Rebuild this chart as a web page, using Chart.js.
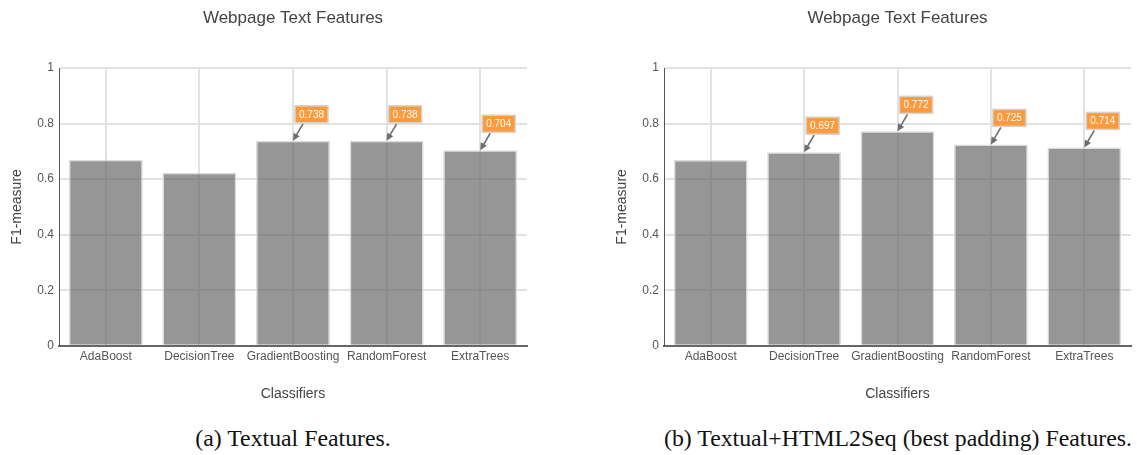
<!DOCTYPE html>
<html>
<head>
<meta charset="utf-8">
<script src="https://cdn.jsdelivr.net/npm/chart.js@4"></script>
<style>
  body { margin: 0; background: #fff; width: 1137px; height: 455px; position: relative; overflow: hidden; }
  .box { position: absolute; top: 0; height: 410px; }
  #boxA { left: 0; width: 568px; }
  #boxB { left: 568px; width: 569px; }
  .caption { position: absolute; top: 424px; font-family: "Liberation Serif", "Times New Roman", serif; font-size: 23.8px; color: #111; text-align: center; line-height: 28px; white-space: nowrap; }
  #capA { left: 59px; width: 468px; }
  #capB { left: 664px; width: 467px; }
</style>
</head>
<body>
<div class="box" id="boxA"><canvas id="chartA"></canvas></div>
<div class="box" id="boxB"><canvas id="chartB"></canvas></div>
<div class="caption" id="capA">(a) Textual Features.</div>
<div class="caption" id="capB">(b) Textual+HTML2Seq (best padding) Features.</div>
<script>
// data
const classifiers = ['AdaBoost', 'DecisionTree', 'GradientBoosting', 'RandomForest', 'ExtraTrees'];
const textualScores = [0.670, 0.623, 0.738, 0.738, 0.704];
const html2seqScores = [0.669, 0.697, 0.772, 0.725, 0.714];
// which bars get an orange value label
const textualLabeled = ['GradientBoosting', 'RandomForest', 'ExtraTrees'];
const html2seqLabeled = ['DecisionTree', 'GradientBoosting', 'RandomForest', 'ExtraTrees'];
const yTicks = [0, 0.2, 0.4, 0.6, 0.8, 1];

const FONT = '"Liberation Sans", Arial, sans-serif';

// callout boxes with arrows, like plotly annotations
const calloutPlugin = {
  id: 'callouts',
  afterDatasetsDraw(chart, args, opts) {
    const { ctx } = chart;
    const meta = chart.getDatasetMeta(0);
    const values = chart.data.datasets[0].data;
    ctx.save();
    ctx.font = '10px ' + FONT;
    opts.labels.forEach((name) => {
      const i = chart.data.labels.indexOf(name);
      const bar = meta.data[i];
      const x = bar.x;
      const y = bar.y;
      const txt = values[i].toFixed(3);
      const w = ctx.measureText(txt).width + 8;
      const h = 17;
      const bx = x + 2;
      const by = y - 18 - h;

      // arrow
      const tx = x + 10, ty = y - 17;
      const ang = Math.atan2(y - ty, x - tx);
      ctx.strokeStyle = '#6e6e6e';
      ctx.fillStyle = '#6e6e6e';
      ctx.lineWidth = 1.6;
      ctx.beginPath();
      ctx.moveTo(tx, ty);
      ctx.lineTo(x - Math.cos(ang) * 4, y - Math.sin(ang) * 4);
      ctx.stroke();
      ctx.beginPath();
      ctx.moveTo(x, y);
      ctx.lineTo(x - Math.cos(ang - 0.45) * 8, y - Math.sin(ang - 0.45) * 8);
      ctx.lineTo(x - Math.cos(ang + 0.45) * 8, y - Math.sin(ang + 0.45) * 8);
      ctx.closePath();
      ctx.fill();

      // box
      ctx.fillStyle = '#fd9a3c';
      ctx.strokeStyle = '#d4d4d4';
      ctx.lineWidth = 1.5;
      ctx.fillRect(bx, by, w, h);
      ctx.strokeRect(bx, by, w, h);
      ctx.fillStyle = '#fff';
      ctx.textAlign = 'center';
      ctx.textBaseline = 'middle';
      ctx.fillText(txt, bx + w / 2, by + h / 2 + 0.5);
    });
    ctx.restore();
  },
};

const makeChart = (canvasId, scores, labeled, padLeft, padRight) => {
  return new Chart(document.getElementById(canvasId), {
    type: 'bar',
    data: {
      labels: classifiers,
      datasets: [{
        data: scores,
        backgroundColor: 'rgba(105,105,105,0.7)',
        borderColor: 'rgba(215,215,215,0.9)',
        borderWidth: 1.5,
        borderSkipped: 'start',
        categoryPercentage: 1,
        barPercentage: 0.79,
      }],
    },
    plugins: [calloutPlugin],
    options: {
      responsive: true,
      maintainAspectRatio: false,
      animation: false,
      layout: { padding: { left: padLeft, right: padRight, top: 0, bottom: 3 } },
      plugins: {
        legend: { display: false },
        tooltip: { enabled: false },
        title: {
          display: true,
          text: 'Webpage Text Features',
          fullSize: false,
          color: '#444',
          font: { family: FONT, size: 17, weight: 'normal' },
          padding: { top: 8, bottom: 39.6 },
        },
        callouts: { labels: labeled },
      },
      scales: {
        x: {
          grid: { offset: false, color: '#e2e2e2', lineWidth: 2, drawTicks: false },
          border: { color: '#666', width: 2 },
          ticks: { color: '#555', padding: 4, font: { family: FONT, size: 12 }, maxRotation: 0, autoSkip: false },
          title: {
            display: true,
            text: 'Classifiers',
            color: '#444',
            font: { family: FONT, size: 14 },
            padding: { top: 18, bottom: 4 },
          },
        },
        y: {
          min: 0,
          max: 1,
          afterFit: (s) => { s.width = 59; },
          afterBuildTicks: (s) => { s.ticks = yTicks.map((v) => ({ value: v })); },
          grid: { color: '#e2e2e2', lineWidth: 2, drawTicks: false },
          border: { color: '#555', width: 1 },
          ticks: {
            color: '#555',
            padding: 5,
            font: { family: FONT, size: 12 },
            callback: (v) => String(+v.toFixed(1)),
          },
          title: {
            display: true,
            text: 'F1-measure',
            color: '#444',
            font: { family: FONT, size: 14 },
            padding: { top: 8.6, bottom: 0 },
          },
        },
      },
    },
  });
};

makeChart('chartA', textualScores, textualLabeled, 0, 41);
makeChart('chartB', html2seqScores, html2seqLabeled, 37, 6);
</script>
</body>
</html>
